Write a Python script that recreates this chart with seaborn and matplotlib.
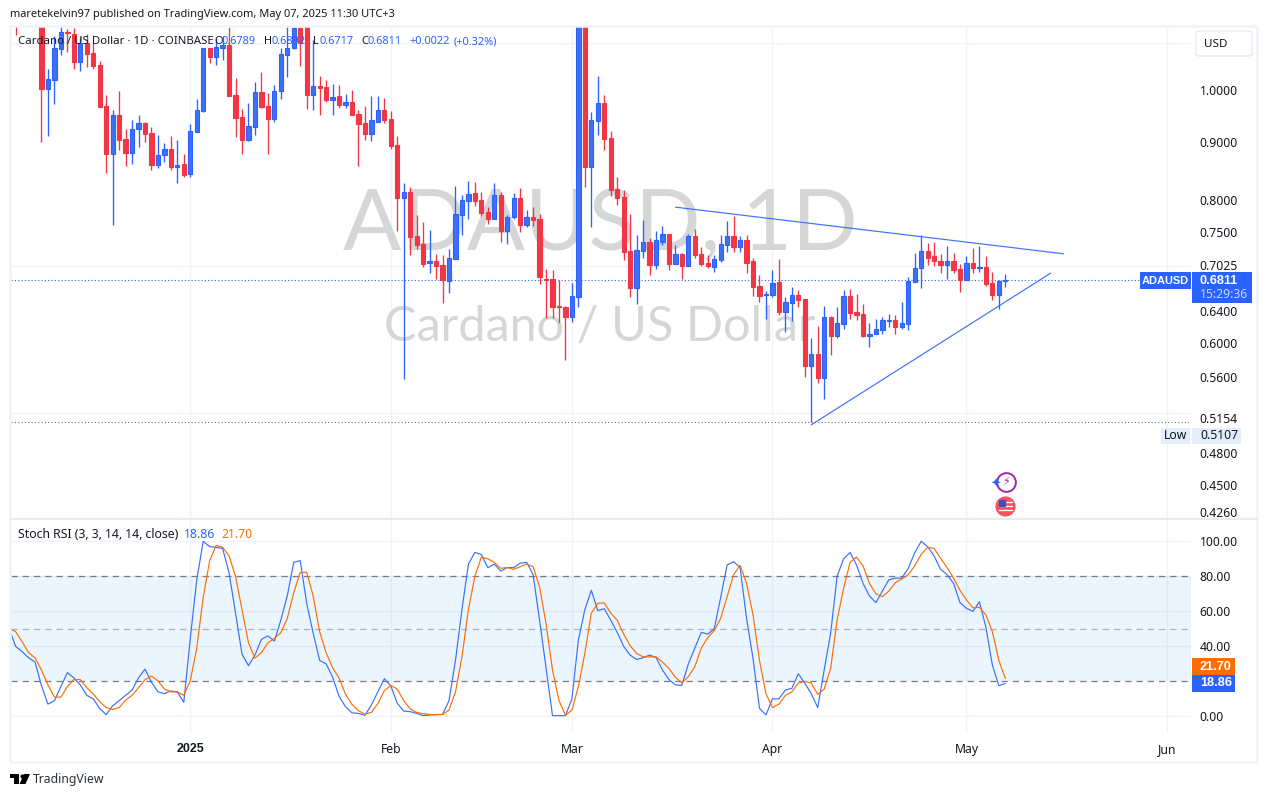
import numpy as np
import pandas as pd
import seaborn as sns
import matplotlib
matplotlib.use('Agg')
import matplotlib.pyplot as plt
import matplotlib.dates as mdates
from matplotlib.patches import Rectangle, Polygon, FancyBboxPatch

# daily candles, 2024-12-05 to 2025-05-07 (first few sit above the visible range)
opens = [1.20,1.16,1.22,1.19,1.20,1.003,1.021,1.087,1.125,1.121,
         1.059,1.100,1.078,1.051,.968,.879,.950,.906,.881,.925,
         .935,.917,.860,.877,.887,.856,.861,.843,.919,.959,
         1.088,1.070,1.089,1.095,.990,.947,.903,.928,.996,.968,
         .943,.997,1.074,1.089,1.134,1.15,.990,1.008,1.006,.980,
         .988,.970,.976,.952,.935,.915,.937,.960,.943,.895,
         .804,.814,.744,.732,.705,.708,.702,.680,.711,.777,
         .799,.812,.801,.781,.770,.809,.752,.774,.804,.761,
         .774,.770,.682,.682,.646,.645,.632,.658,1.20,.856,
         .939,.974,.907,.819,.805,.722,.670,.722,.735,.702,
         .735,.747,.703,.718,.701,.744,.718,.705,.699,.709,
         .731,.744,.728,.738,.707,.673,.661,.661,.678,.638,
         .650,.661,.655,.572,.586,.558,.632,.608,.623,.659,
         .638,.636,.608,.610,.616,.627,.628,.619,.623,.678,
         .698,.722,.715,.708,.702,.707,.696,.681,.705,.698,
         .699,.677,.661,.6789]
highs = [1.25,1.24,1.26,1.24,1.22,1.043,1.115,1.15,1.131,1.133,
         1.113,1.121,1.100,1.060,.990,.960,.998,.924,.941,.951,
         .938,.928,.913,.898,.911,.904,.879,.934,.982,1.088,
         1.089,1.112,1.115,1.136,1.025,.962,.974,1.016,1.037,.993,
         1.010,1.088,1.15,1.16,1.15,1.17,1.107,1.029,1.020,1.012,
         1.010,.992,1.0,.960,.968,.988,.988,.984,.958,.911,
         .829,.822,.777,.766,.754,.718,.716,.725,.824,.809,
         .832,.830,.814,.789,.829,.814,.777,.812,.820,.785,
         .789,.778,.696,.695,.681,.646,.677,1.30,1.25,.956,
         1.029,.990,.920,.838,.817,.778,.746,.769,.741,.752,
         .760,.747,.731,.719,.747,.755,.728,.716,.716,.746,
         .767,.775,.744,.746,.712,.688,.666,.695,.711,.658,
         .671,.667,.655,.606,.620,.646,.633,.645,.667,.669,
         .662,.649,.624,.629,.632,.636,.634,.651,.685,.719,
         .746,.734,.735,.718,.729,.719,.703,.715,.726,.729,
         .715,.692,.681,.6892]
lows = [1.118,1.145,1.16,1.15,.900,.911,.972,1.074,1.079,1.044,
        1.040,1.048,1.044,.966,.846,.761,.886,.858,.861,.891,
        .900,.851,.854,.865,.851,.829,.839,.838,.919,.956,
        1.056,1.052,1.063,.987,.909,.879,.902,.913,.964,.879,
        .938,.982,1.027,1.087,1.050,.962,.960,.950,.976,.950,
        .964,.964,.950,.858,.904,.902,.937,.935,.888,.752,
        .557,.716,.725,.699,.691,.682,.650,.663,.711,.746,
        .770,.791,.775,.763,.770,.735,.732,.770,.750,.758,
        .760,.676,.631,.631,.624,.579,.626,.645,.822,.758,
        .913,.886,.807,.793,.709,.658,.648,.712,.688,.696,
        .731,.695,.703,.682,.701,.712,.701,.698,.692,.706,
        .721,.721,.721,.690,.659,.651,.629,.658,.634,.613,
        .627,.645,.560,.5107,.553,.535,.585,.606,.617,.629,
        .628,.607,.595,.610,.611,.619,.611,.617,.616,.678,
        .670,.702,.701,.691,.682,.690,.664,.681,.690,.692,
        .673,.654,.642,.6717]
closes = [1.16,1.22,1.19,1.20,1.002,1.022,1.088,1.124,1.123,1.059,
          1.100,1.076,1.050,.967,.879,.950,.904,.881,.925,.935,
          .915,.860,.877,.887,.856,.859,.842,.920,.960,1.088,
          1.070,1.090,1.095,.988,.945,.903,.929,.995,.966,.943,
          .997,1.075,1.088,1.133,1.100,.990,1.008,1.005,.980,.985,
          .970,.976,.950,.934,.915,.941,.960,.941,.893,.804,
          .814,.743,.731,.703,.708,.701,.681,.712,.778,.801,
          .810,.799,.780,.770,.809,.752,.774,.804,.761,.774,
          .769,.685,.681,.645,.645,.632,.659,1.20,.856,.941,
          .974,.906,.817,.804,.721,.670,.724,.735,.702,.738,
          .747,.703,.718,.701,.744,.716,.703,.701,.711,.732,
          .744,.728,.738,.705,.671,.659,.662,.677,.638,.651,
          .661,.654,.572,.586,.558,.632,.608,.624,.659,.637,
          .634,.608,.611,.617,.628,.628,.619,.624,.680,.698,
          .722,.712,.707,.702,.707,.695,.681,.705,.698,.699,
          .676,.661,.6789,.6811]

# stoch rsi, starts one day before the first candle
stoch_k = [50,40,37,33.5,31,17.5,7,9,17,25,
           22,18,12,10,4.5,1,6,9,12,15,
           22,27,19.5,14,13,14.5,14,8,44.5,78,
           100,97,96.5,96,82,59,35.5,29,35,44,
           46,43,55,69,88,89,64.5,47.5,32,30,
           22.5,11.5,5.5,2,1.7,.6,6.5,14,21.5,17.5,
           7.5,3,2.7,1.7,.4,.8,1,1.1,9,32,
           61,87,93.7,92.5,85,87,83,85,85,87.5,
           88,81,55,27.5,.4,.4,.4,10,43.6,61,
           72,60.5,61.5,55,48,40,35,32.5,33.5,35,
           33.7,26.5,21,18,17.7,30,39,48,47,50,
           68,86.5,88.4,85,56,33,4.6,.8,10,10,
           15,16,24.4,19,13,5,26.5,47.5,80,90,
           93.7,86.5,76,68.8,65,71.6,78,79,79,84.6,
           93.5,100,97,91.6,84,81,76,65,61.7,60,
           65.5,51,29.3,17.5,18.86]
stoch_d = [50.3,48.4,42.7,36.4,33.5,26.5,18,11,11,17,
           21,21,16.4,12.8,8.4,5,4,5,9.3,12,
           16.4,21,23,20.4,15.6,14,14,12,20.4,39,
           68,89,97.7,96.6,91.6,80,61,42,33.3,36.4,
           42,44.6,47.8,56,70.7,82.3,82.3,68.8,48.4,36.4,
           27.8,22,12.6,6.9,3.2,1.3,2.3,7.2,14.7,17.7,
           15.6,9,4.2,2.3,1.5,1.1,1,1.1,3.6,14,
           34,61,80,91,90,88,84.6,85,84,85.5,
           87,85.5,74,53,26.5,9,.6,3.6,17,36,
           59,64.6,64.8,59,55,47,40.4,36,34,34,
           34,31,27.4,22.3,19.2,22.7,28.4,39,45,49,
           56,68.4,81,86.3,76,58,32,13,5,7,
           12,14,19,20,19,12.6,15.6,27.4,55,73,
           88,91,86,76,70,68.4,71.6,76.4,78.5,81,
           86,92.6,96.6,96,90.3,85,79,72,66.5,62,
           62.3,58,48.4,32,21.70]

price_ticks = [1.0, 0.9, 0.8, 0.75, 0.7025, 0.64, 0.6, 0.56, 0.5154, 0.48, 0.45, 0.426]
price_labels = ['1.0000', '0.9000', '0.8000', '0.7500', '0.7025', '0.6400', '0.6000',
                '0.5600', '0.5154', '0.4800', '0.4500', '0.4260']
price_grid = [1.1, 1.0, 0.9, 0.8, 0.75, 0.7, 0.64, 0.6, 0.56, 0.52, 0.48, 0.45]
stoch_ticks = [0, 40, 60, 80, 100]
stoch_labels = ['0.00', '40.00', '60.00', '80.00', '100.00']
month_ticks = ['2025-01-01', '2025-02-01', '2025-03-01', '2025-04-01', '2025-05-01', '2025-06-01']
month_labels = ['2025', 'Feb', 'Mar', 'Apr', 'May', 'Jun']
upper_trend = (['2025-03-17', '2025-05-16'], [0.789, 0.718])
lower_trend = (['2025-04-07', '2025-05-14'], [0.508, 0.6903])

W, H = 1267, 797
BLUE = '#2962ff'
RED = '#f23645'
ORANGE = '#ff6d00'
INK = '#131722'
GRID = '#f0f3fa'
FONT = 'Noto Sans'
BOLD = 'Liberation Sans'

sns.set_theme(style='white', font=FONT)
fig = plt.figure(figsize=(W / 100, H / 100), dpi=100, facecolor='white')


def box(x0, y0, x1, y1):
    return [x0 / W, 1 - y1 / H, (x1 - x0) / W, (y1 - y0) / H]


def label(x, y, s, color=INK, size=8.8, ha='left', **kw):
    fig.text(x / W, 1 - y / H, s, color=color, fontsize=size, ha=ha, va='center', zorder=6, **kw)


def tag(x0, y0, x1, y1, color):
    fig.add_artist(Rectangle((x0 / W, 1 - y1 / H), (x1 - x0) / W, (y1 - y0) / H,
                             transform=fig.transFigure, color=color, lw=0, zorder=5))


def dot(x, y, size, face, edge=None, mew=0):
    fig.add_artist(plt.Line2D([x / W], [1 - y / H], marker='o', ms=size, mfc=face, mec=edge or face, mew=mew,
                              transform=fig.transFigure, zorder=6))


ax = fig.add_axes(box(10.5, 26, 1191, 518.5))
ax2 = fig.add_axes(box(10.5, 520, 1191, 733), sharex=ax)

candle_days = pd.date_range('2024-12-05', periods=len(opens), freq='D')
x = mdates.date2num(candle_days)
o, h, l, c = map(np.array, (opens, highs, lows, closes))
up = c >= o
body_low = np.minimum(o, c)
body_high = np.maximum(o, c)

ax.vlines(x[up], l[up], h[up], color=BLUE, lw=0.95, zorder=3)
ax.vlines(x[~up], l[~up], h[~up], color=RED, lw=0.95, zorder=3)
ax.bar(x[up], body_high[up] - body_low[up], bottom=body_low[up], width=0.66,
       facecolor='#4070f8', edgecolor=BLUE, lw=0.8, zorder=4)
ax.bar(x[~up], body_high[~up] - body_low[~up], bottom=body_low[~up], width=0.66,
       facecolor=RED, edgecolor=RED, lw=0.8, zorder=4)

ax.set_yscale('log')
ax.set_xlim(mdates.date2num(pd.Timestamp('2024-12-04 05:00')), mdates.date2num(pd.Timestamp('2025-06-04 17:00')))
ax.set_ylim(0.4203, 1.1382)
ax.set_yticks(price_ticks, price_labels)
ax.set_yticks(price_grid, [''] * len(price_grid), minor=True)
ax.yaxis.tick_right()
ax.grid(True, which='minor', axis='y', color=GRID, lw=1)
ax.grid(False, which='major', axis='y')

tick_x = mdates.date2num(pd.to_datetime(month_ticks))
ax.set_xticks(tick_x)
ax.grid(True, which='major', axis='x', color=GRID, lw=1)
ax.set_axisbelow(True)
ax.tick_params(axis='x', which='both', length=0, labelbottom=False)
ax.tick_params(axis='y', which='both', length=0, pad=6.3, labelsize=8.8, labelcolor=INK)
for s in ax.spines.values():
    s.set_visible(False)

# watermark sits behind the candles
ax.text(600 / W, 1 - 226 / H, 'ADAUSD, 1D', transform=fig.transFigure, ha='center', va='center',
        fontsize=62, family='Lato', color='#d5d6d8', zorder=1)
ax.text(600 / W, 1 - 327 / H, 'Cardano / US Dollar', transform=fig.transFigure, ha='center', va='center',
        fontsize=35, family='Lato', color='#d5d6d8', zorder=1)

ax.axhline(closes[-1], color=BLUE, lw=0.8, ls=(0, (1, 2)), zorder=2)
ax.axhline(min(lows), color='#6a6d78', lw=0.8, ls=(0, (1, 2)), zorder=2)

for days, prices in (upper_trend, lower_trend):
    ax.plot(mdates.date2num(pd.to_datetime(days)), prices, color=BLUE, lw=0.85, alpha=0.9, zorder=5)

stoch_days = pd.date_range('2024-12-04', periods=len(stoch_k), freq='D')
stoch = pd.DataFrame({'day': mdates.date2num(stoch_days), 'k': stoch_k, 'd': stoch_d})
ax2.axhspan(20, 80, color='#2196f3', alpha=0.09, lw=0, zorder=1)
sns.lineplot(data=stoch, x='day', y='k', color='#3a6ff7', lw=0.85, ax=ax2, errorbar=None, zorder=4)
sns.lineplot(data=stoch, x='day', y='d', color=ORANGE, lw=0.85, ax=ax2, errorbar=None, zorder=5)
ax2.axhline(80, color='#787b86', lw=0.9, ls=(0, (5, 4)), zorder=3)
ax2.axhline(20, color='#787b86', lw=0.9, ls=(0, (5, 4)), zorder=3)
ax2.axhline(50, color='#787b86', lw=0.9, ls=(0, (5, 4)), alpha=0.55, zorder=3)

ax2.set_ylim(-9.5, 112.2)
ax2.set_xlabel('')
ax2.set_ylabel('')
ax2.set_yticks(stoch_ticks, stoch_labels)
ax2.yaxis.tick_right()
ax2.grid(True, axis='y', color=GRID, lw=1)
ax2.grid(True, axis='x', color=GRID, lw=1)
ax2.set_axisbelow(True)
ax2.set_xticks(tick_x, month_labels)
ax2.tick_params(axis='y', length=0, pad=6.3, labelsize=8.8, labelcolor=INK)
ax2.tick_params(axis='x', length=0, pad=7.2, labelsize=8.8, labelcolor=INK)
ax2.get_xticklabels()[0].set_fontfamily(BOLD)
ax2.get_xticklabels()[0].set_fontweight('bold')
ax2.get_xticklabels()[0].set_fontsize(9)
for s in ax2.spines.values():
    s.set_visible(False)

# outer frame and pane divider
fig.add_artist(Rectangle((10 / W, 1 - 762 / H), 1247 / W, 736 / H, transform=fig.transFigure,
                         fill=False, edgecolor=GRID, lw=1.8, zorder=7))
fig.add_artist(plt.Line2D([10 / W, 1257 / W], [1 - 519 / H, 1 - 519 / H], transform=fig.transFigure,
                          color='#e4e6ec', lw=1.2, zorder=7))

label(10, 15, 'maretekelvin97 published on TradingView.com, May 07, 2025 11:30 UTC+3', size=7.95)
label(18, 41.5, 'Cardano / US Dollar · 1D · COINBASE', size=8.2)
for px, s, col in [(214.5, 'O', INK), (222, '0.6789', BLUE), (264, 'H', INK), (272, '0.6892', BLUE),
                   (313, 'L', INK), (319, '0.6717', BLUE), (361, 'C', INK), (368, '0.6811', BLUE),
                   (409, '+0.0022', BLUE), (454, '(+0.32%)', BLUE)]:
    label(px, 41.5, s, color=col, size=7.9)
label(18, 535, 'Stoch RSI (3, 3, 14, 14, close)', size=8.8)
label(184, 535, '18.86', color=BLUE, size=8.8)
label(221, 535, '21.70', color=ORANGE, size=8.8)

# USD button
fig.add_artist(FancyBboxPatch((1196 / W, 1 - 56 / H), 56 / W, 25 / H, transform=fig.transFigure,
                              boxstyle='round,pad=0,rounding_size=0.003', facecolor='white',
                              edgecolor='#e8eaf0', lw=1, zorder=5))
label(1204, 44.5, 'USD', size=8.4)

# last price tags
tag(1140, 272, 1191, 289, BLUE)
label(1165.5, 280.5, 'ADAUSD', color='white', size=7.9, ha='center', fontweight='bold', family=BOLD)
tag(1192, 272, 1252, 303, BLUE)
label(1200, 280.5, '0.6811', color='white', size=9.2, fontweight='bold', family=BOLD)
label(1200, 295, '15:29:36', color='#c9d8ff', size=8.8)

tag(1161, 428, 1190, 444, '#e3edfb')
label(1175.5, 436, 'Low', size=8.8, ha='center')
tag(1192, 428, 1241, 444, '#e3edfb')
label(1200, 436, '0.5107', size=8.8)

tag(1192, 658, 1235, 675, ORANGE)
label(1200, 666.5, '21.70', color='white', size=9.2, fontweight='bold', family=BOLD)
tag(1192, 675, 1235, 692, BLUE)
label(1200, 683.5, '18.86', color='white', size=9.2, fontweight='bold', family=BOLD)

# event icons
dot(1006, 482, 13.5, 'white', '#9c27b0', 1.4)
label(1006, 482, '⚡', color='#9c27b0', size=8, ha='center', family='DejaVu Sans')
label(996, 484, '✦', color=BLUE, size=9, ha='center', family='DejaVu Sans')
dot(1005, 506, 14.5, '#f7525f')
for yy in (502, 506, 510):
    fig.add_artist(plt.Line2D([998.5 / W, 1011.5 / W], [1 - yy / H, 1 - yy / H], color='white', lw=1,
                              transform=fig.transFigure, zorder=6))
fig.add_artist(plt.Line2D([1002 / W], [1 - 503 / H], marker='s', ms=5, mfc='#3f51b5', mec='#3f51b5',
                          transform=fig.transFigure, zorder=6))


# TradingView logo
def poly(points, color='black'):
    fig.add_artist(Polygon([(px / W, 1 - py / H) for px, py in points], closed=True, transform=fig.transFigure,
                           color=color, lw=0, zorder=6))


poly([(10, 774), (18.5, 774), (18.5, 784), (14, 784), (14, 778), (10, 778)])
poly([(24, 774), (30, 774), (25.5, 784), (19.5, 784)])
dot(21.5, 775.8, 3, 'black')
label(33, 779, 'TradingView', color='#2a2e39', size=8.8)

fig.savefig('out.png', dpi=100, facecolor='white')
